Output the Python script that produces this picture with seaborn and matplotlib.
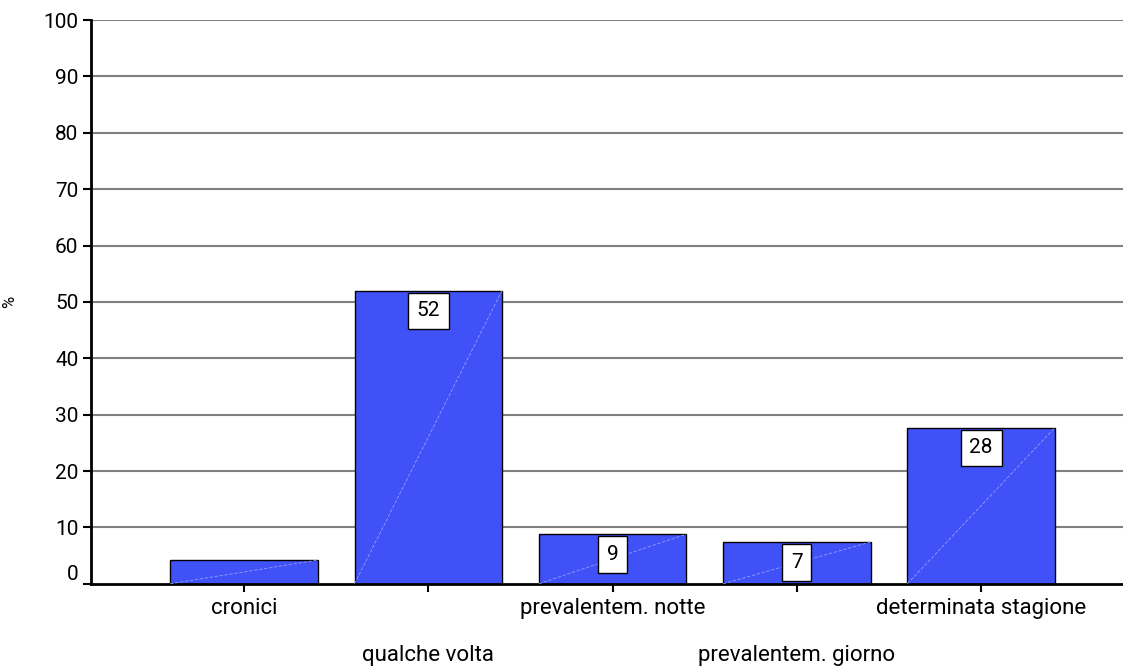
import matplotlib
matplotlib.use("Agg")
import matplotlib.pyplot as plt
import seaborn as sns
import pandas as pd

# --- data ---
categories = ["cronici", "qualche volta", "prevalentem. notte",
              "prevalentem. giorno", "determinata stagione"]
values = [4.2, 52.0, 8.8, 7.4, 27.7]
labels = ["", "52", "9", "7", "28"]
y_ticks = [0, 10, 20, 30, 40, 50, 60, 70, 80, 90, 100]

df = pd.DataFrame({"cat": categories, "val": values})

sns.set_style("white")
plt.rcParams["font.family"] = ["Roboto", "DejaVu Sans"]
plt.rcParams["text.color"] = "black"
plt.rcParams["xtick.color"] = "black"
plt.rcParams["ytick.color"] = "black"
plt.rcParams["axes.labelcolor"] = "black"

fig = plt.figure(figsize=(11.23, 6.71), dpi=100)
ax = fig.add_axes([0.081, 0.130, 0.919, 0.840])

# grid lines behind the bars
for t in y_ticks[1:]:
    ax.axhline(t, color="#808080", lw=1.5, zorder=0)

sns.barplot(data=df, x="cat", y="val", color="#4052F7", saturation=1,
            width=0.8, edgecolor="black", linewidth=1.0, ax=ax, zorder=2)

# faint diagonal streak inside every bar, and the value boxes
for p, lab in zip(ax.patches, labels):
    x0, w, h = p.get_x(), p.get_width(), p.get_height()
    ax.plot([x0, x0 + w], [0, h], color="#8FA0FF", lw=0.6,
            ls=(0, (4, 2)), zorder=3)
    if lab:
        ax.text(x0 + w / 2, h - 1.9, lab, ha="center", va="top",
                fontsize=15, zorder=4,
                bbox=dict(boxstyle="square,pad=0.42", fc="white",
                          ec="black", lw=1.0))

ax.set_ylim(0, 100)
ax.set_xlim(-0.83, 4.77)
ax.set_yticks(y_ticks)
ax.set_xticks(range(len(categories)))
ax.set_xticklabels(categories, fontsize=16)
ax.tick_params(axis="y", labelsize=15, length=6, width=1.5, pad=3,
               left=True)
ax.tick_params(axis="x", length=6, width=1.5, bottom=True)
for i, tk in enumerate(ax.xaxis.get_major_ticks()):
    tk.set_pad(4 if i % 2 == 0 else 38)
# the "0" label sits a little above its tick
ax.get_yticklabels()[0].set_va("bottom")

ax.set_xlabel("")
ax.set_ylabel("%", fontsize=12)
ax.yaxis.set_label_coords(-0.072, 0.5)

for s in ["top", "right"]:
    ax.spines[s].set_visible(False)
for s in ["left", "bottom"]:
    ax.spines[s].set_color("black")
    ax.spines[s].set_linewidth(2)

fig.savefig("out.png", dpi=100)
